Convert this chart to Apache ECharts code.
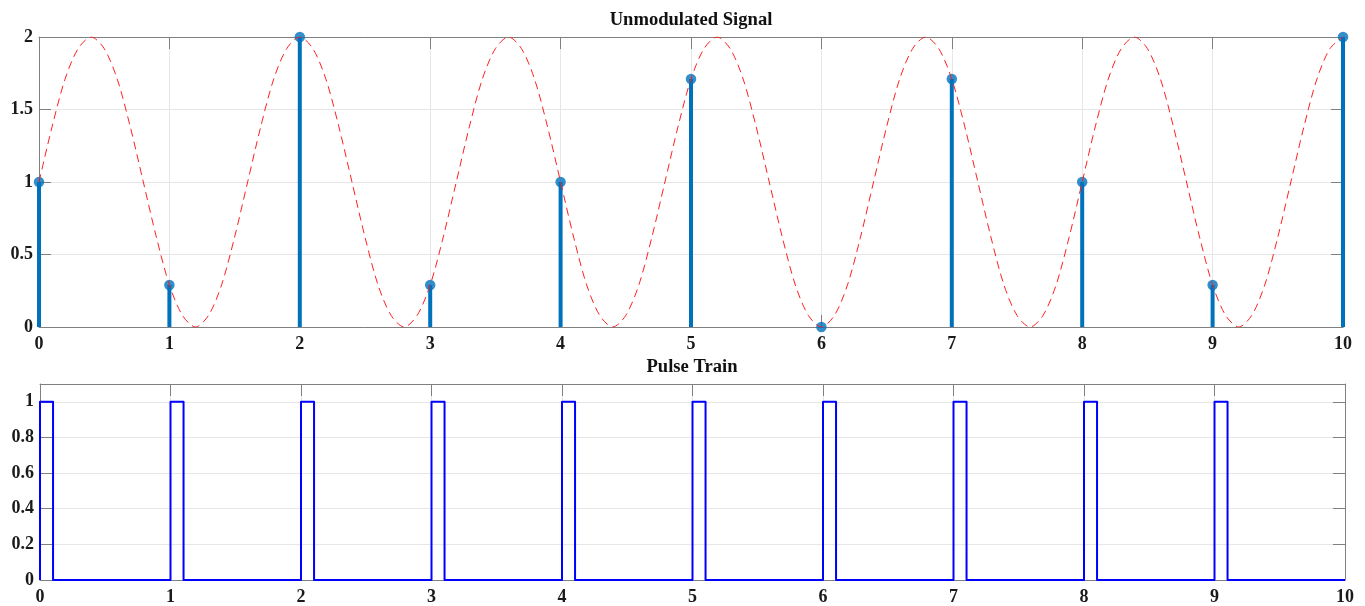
<!DOCTYPE html>
<html style="height: 100%">
    <head>
        <meta charset="utf-8">
        <script src="https://cdn.jsdelivr.net/npm/echarts@6/dist/echarts.min.js"></script>
    </head>
    <body style="height: 100%; margin: 0; background: #fff">
        <div id="container" style="width: 1365px; height: 606px"></div>
    </body>
</html>
<script>
    // sampled message (stems)
    var stemT = [0, 1, 2, 3, 4, 5, 6, 7, 8, 9, 10];
    var stemValues = [1, 0.29, 2, 0.29, 1, 1.71, 0, 1.71, 1, 0.29, 2];

    // dashed continuous signal, read every 0.1 s from 0 to 10
    var curveStep = 0.1;
    var curveValues = [
        1, 1.38, 1.71, 1.92, 2, 1.92, 1.71, 1.38, 1, 0.62, 0.29, 0.08, 0, 0.08, 0.29, 0.62,
        1, 1.38, 1.71, 1.92, 2, 1.92, 1.71, 1.38, 1, 0.62, 0.29, 0.08, 0, 0.08, 0.29, 0.62,
        1, 1.38, 1.71, 1.92, 2, 1.92, 1.71, 1.38, 1, 0.62, 0.29, 0.08, 0, 0.08, 0.29, 0.62,
        1, 1.38, 1.71, 1.92, 2, 1.92, 1.71, 1.38, 1, 0.62, 0.29, 0.08, 0, 0.08, 0.29, 0.62,
        1, 1.38, 1.71, 1.92, 2, 1.92, 1.71, 1.38, 1, 0.62, 0.29, 0.08, 0, 0.08, 0.29, 0.62,
        1, 1.38, 1.71, 1.92, 2, 1.92, 1.71, 1.38, 1, 0.62, 0.29, 0.08, 0, 0.08, 0.29, 0.62,
        1, 1.38, 1.71, 1.92, 2
    ];

    // pulse train
    var pulseStarts = [0, 1, 2, 3, 4, 5, 6, 7, 8, 9];
    var pulseWidth = 0.1;
    var pulseHigh = 1;
    var pulseLow = 0;
    var pulseEnd = 10;

    var titles = ['Unmodulated Signal', 'Pulse Train'];
</script>

<script type="text/javascript">
    var dom = document.getElementById("container");
    var myChart = echarts.init(dom);

    var curveData = curveValues.map(function (v, i) { return [+(i * curveStep).toFixed(2), v]; });
    var stemData = stemT.map(function (t, i) { return [t, stemValues[i]]; });
    var pulseData = [];
    pulseStarts.forEach(function (s) {
        pulseData.push([s, pulseLow], [s, pulseHigh], [s + pulseWidth, pulseHigh], [s + pulseWidth, pulseLow]);
    });
    pulseData.push([pulseEnd, pulseLow]);

    var font = 'Liberation Serif';
    var axisGray = '#808080';
    var gridGray = '#e6e6e6';

    function labelStyle(margin) {
        return { fontFamily: font, fontWeight: 'bold', fontSize: 18, color: '#1a1a1a', margin: margin };
    }
    function mainAxis(grid, pos, min, max, interval, isY) {
        var ax = {
            type: 'value', gridIndex: grid, position: pos, min: min, max: max, interval: interval,
            axisLine: { show: true, lineStyle: { color: axisGray, width: 1 } },
            axisTick: { show: true, inside: true, length: 12, lineStyle: { color: axisGray } },
            axisLabel: labelStyle(isY ? 6 : 8),
            splitLine: { show: true, lineStyle: { color: gridGray, width: 1 } }
        };
        if (isY) ax.axisLabel.showMaxLabel = max !== 2 ? false : true;
        return ax;
    }
    function boxAxis(grid, pos, min, max, interval) {
        return {
            type: 'value', gridIndex: grid, position: pos, min: min, max: max, interval: interval,
            axisLine: { show: true, onZero: false, lineStyle: { color: axisGray, width: 1 } },
            axisTick: { show: true, inside: true, length: 12, lineStyle: { color: axisGray } },
            axisLabel: { show: false },
            splitLine: { show: false }
        };
    }

    var option = {
        backgroundColor: '#ffffff',
        animation: false,
        title: [
            { text: titles[0], left: 691, top: 11, textAlign: 'center', padding: 0,
              textStyle: { fontFamily: font, fontWeight: 'bold', fontSize: 18.6, color: '#111' } },
            { text: titles[1], left: 692, top: 358, textAlign: 'center', padding: 0,
              textStyle: { fontFamily: font, fontWeight: 'bold', fontSize: 18.6, color: '#111' } }
        ],
        grid: [
            { left: 39, right: 22, top: 37, height: 290 },
            { left: 40, right: 20, top: 384, height: 199 }
        ],
        xAxis: [
            mainAxis(0, 'bottom', 0, 10, 1, false),
            boxAxis(0, 'top', 0, 10, 1),
            mainAxis(1, 'bottom', 0, 10, 1, false),
            boxAxis(1, 'top', 0, 10, 1)
        ],
        yAxis: [
            mainAxis(0, 'left', 0, 2, 0.5, true),
            boxAxis(0, 'right', 0, 2, 0.5),
            mainAxis(1, 'left', 0, 1.1, 0.2, true),
            boxAxis(1, 'right', 0, 1.1, 0.2)
        ],
        series: [
            {
                name: 'stems', type: 'bar', xAxisIndex: 0, yAxisIndex: 0,
                barWidth: 4, clip: false, z: 3,
                itemStyle: { color: '#0072BD' },
                data: stemData
            },
            {
                name: 'samples', type: 'scatter', xAxisIndex: 0, yAxisIndex: 0,
                symbol: 'circle', symbolSize: 10.5, clip: false, z: 4,
                itemStyle: { color: '#0072BD' },
                data: stemData
            },
            {
                name: 'signal', type: 'line', xAxisIndex: 0, yAxisIndex: 0,
                showSymbol: false, smooth: 0.3, z: 5,
                lineStyle: { color: '#ff2020', width: 1, type: [8, 5] },
                data: curveData
            },
            {
                name: 'pulse', type: 'line', xAxisIndex: 2, yAxisIndex: 2,
                showSymbol: false, clip: false, z: 5,
                lineStyle: { color: '#0000ff', width: 2, join: 'round' },
                data: pulseData
            }
        ]
    };

    if (option && typeof option === 'object') {
        myChart.setOption(option);
    }
</script>
